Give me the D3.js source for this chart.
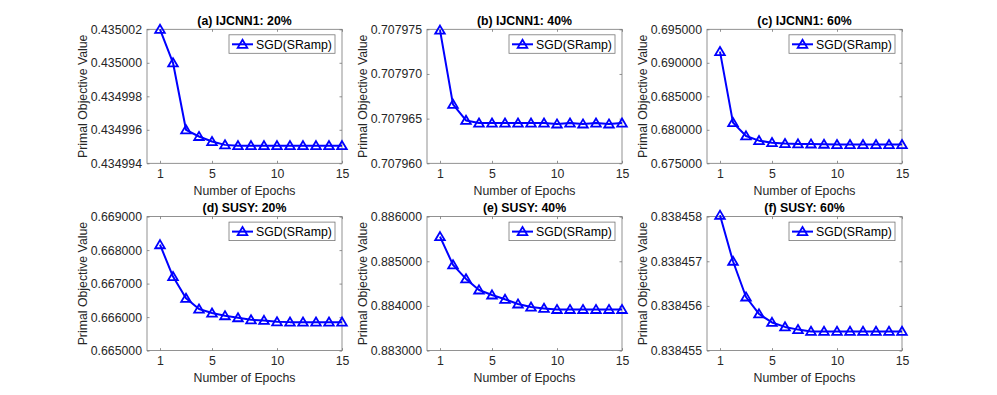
<!DOCTYPE html>
<html>
<head>
<meta charset="utf-8">
<script src="https://cdn.jsdelivr.net/npm/d3@7"></script>
<style>
html,body{margin:0;padding:0;background:#fff;}
svg{display:block;font-family:"Liberation Sans",Arial,Helvetica,sans-serif;}
</style>
</head>
<body>
<svg id="chart" width="997" height="395"></svg>
<script>
const epochs = [1,2,3,4,5,6,7,8,9,10,11,12,13,14,15];
const titles = ["(a) IJCNN1: 20%","(b) IJCNN1: 40%","(c) IJCNN1: 60%","(d) SUSY: 20%","(e) SUSY: 40%","(f) SUSY: 60%"];
const seriesName = "SGD(SRamp)";
const xTicks = [1,5,10,15];
const xLabel = "Number of Epochs";
const yLabel = "Primal Objective Value";

const valsA = [0.435002,0.435000,0.434996,0.4349956,0.4349953,0.4349951,0.43499505,0.43499505,0.43499505,0.43499505,0.43499505,0.43499505,0.43499505,0.43499505,0.43499505];
const valsB = [0.7079749,0.7079666,0.7079648,0.7079645,0.7079645,0.7079645,0.7079645,0.7079645,0.7079645,0.7079644,0.7079645,0.7079644,0.7079645,0.7079644,0.7079645];
const valsC = [0.69167,0.68107,0.67908,0.67838,0.67808,0.67794,0.67789,0.67788,0.67784,0.67780,0.67779,0.67779,0.67779,0.67779,0.67779];
const valsD = [0.66816,0.66721,0.66656,0.66624,0.66612,0.66604,0.66598,0.66592,0.66590,0.66586,0.66585,0.66585,0.66585,0.66585,0.66585];
const valsE = [0.88555,0.88492,0.884605,0.884357,0.884245,0.884148,0.884043,0.883975,0.883945,0.88392,0.88392,0.88392,0.88392,0.88392,0.88392];
const valsF = [0.83845803,0.838457,0.8384562,0.83845582,0.83845563,0.83845553,0.83845547,0.83845543,0.83845543,0.83845543,0.83845543,0.83845543,0.83845543,0.83845543,0.83845543];

const yTicksA = [0.434994,0.434996,0.434998,0.435000,0.435002];
const yTicksB = [0.707960,0.707965,0.707970,0.707975];
const yTicksC = [0.675,0.680,0.685,0.690,0.695];
const yTicksD = [0.665,0.666,0.667,0.668,0.669];
const yTicksE = [0.883,0.884,0.885,0.886];
const yTicksF = [0.838455,0.838456,0.838457,0.838458];

const panels = [
  {vals: valsA, ticks: yTicksA},
  {vals: valsB, ticks: yTicksB},
  {vals: valsC, ticks: yTicksC},
  {vals: valsD, ticks: yTicksD},
  {vals: valsE, ticks: yTicksE},
  {vals: valsF, ticks: yTicksF}
];

const svg = d3.select("#chart");
const W = 195, H = 134;
const lefts = [147, 427, 707];
const tops = [29.3, 216.6];
const textColor = "#262626";
const axisColor = "#777777";
const blue = "#0000ff";
const fmt = d3.format(".6f");
const tri = "M0,-4.6L4.8,3.5L-4.8,3.5Z";
const fs = "12.3px";

panels.forEach((p, i) => {
  const col = i % 3, row = Math.floor(i / 3);
  const g = svg.append("g").attr("transform", `translate(${lefts[col]},${tops[row]})`);
  const x = d3.scaleLinear().domain([0, 15]).range([0, W]);
  const y = d3.scaleLinear().domain(d3.extent(p.ticks)).range([H, 0]);

  g.append("rect").attr("x",0).attr("y",0).attr("width",W).attr("height",H)
    .attr("fill","#fff").attr("stroke",axisColor).attr("stroke-width",0.8);

  const xb = g.append("g").attr("transform",`translate(0,${H})`)
    .call(d3.axisBottom(x).tickValues(xTicks).tickSize(-2.5).tickPadding(6).tickFormat(d3.format("d")));
  const xt = g.append("g")
    .call(d3.axisTop(x).tickValues(xTicks).tickSize(-2.5).tickFormat(""));
  const yl = g.append("g")
    .call(d3.axisLeft(y).tickValues(p.ticks).tickSize(-2.5).tickPadding(5).tickFormat(fmt));
  const yr = g.append("g").attr("transform",`translate(${W},0)`)
    .call(d3.axisRight(y).tickValues(p.ticks).tickSize(-2.5).tickFormat(""));
  [xb,xt,yl,yr].forEach(a => {
    a.select(".domain").remove();
    a.selectAll(".tick line").attr("stroke",axisColor).attr("stroke-width",0.8);
    a.selectAll(".tick text").attr("fill",textColor).style("font-size",fs)
      .style("font-family","'Liberation Sans',Arial,sans-serif");
  });
  xb.selectAll(".tick text").attr("dy","0.71em");

  g.append("text").attr("x",W/2).attr("y",-4.5).attr("text-anchor","middle")
    .attr("fill","#000").style("font-size",fs).style("font-weight","bold").text(titles[i]);
  g.append("text").attr("x",W/2).attr("y",H+31.5).attr("text-anchor","middle")
    .attr("fill",textColor).style("font-size",fs).text(xLabel);
  g.append("text").attr("transform",`translate(-60.5,${H/2}) rotate(-90)`).attr("text-anchor","middle")
    .attr("fill",textColor).style("font-size",fs).text(yLabel);

  const line = d3.line().x((d,k) => x(epochs[k])).y(d => y(d));
  g.append("path").datum(p.vals).attr("d", line).attr("fill","none")
    .attr("stroke",blue).attr("stroke-width",2).attr("stroke-linejoin","round");
  g.selectAll(".mk").data(p.vals).enter().append("path")
    .attr("d", tri)
    .attr("transform",(d,k)=>`translate(${x(epochs[k])},${y(d)})`)
    .attr("fill","none").attr("stroke",blue).attr("stroke-width",1.8);

  const lg = g.append("g").attr("transform",`translate(${W-113},5.5)`);
  lg.append("rect").attr("x",0).attr("y",0).attr("width",106).attr("height",18.5)
    .attr("fill","#fff").attr("stroke",axisColor).attr("stroke-width",0.8);
  lg.append("line").attr("x1",3).attr("x2",24).attr("y1",9.5).attr("y2",9.5)
    .attr("stroke",blue).attr("stroke-width",2);
  lg.append("path").attr("d",tri).attr("transform","translate(13.5,9.5)")
    .attr("fill","none").attr("stroke",blue).attr("stroke-width",1.8);
  lg.append("text").attr("x",27).attr("y",13.8).attr("fill","#000")
    .style("font-size",fs).text(seriesName);
});
</script>
</body>
</html>
